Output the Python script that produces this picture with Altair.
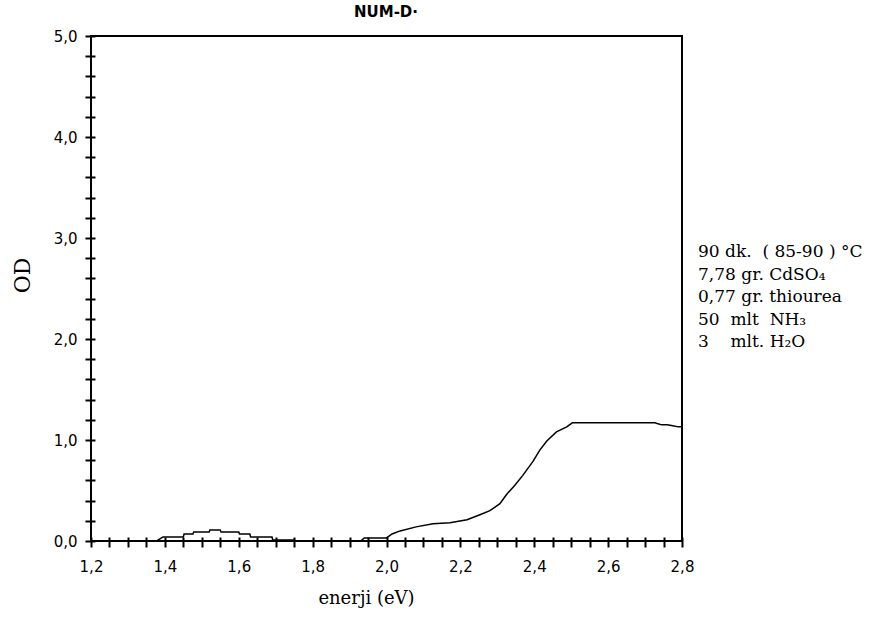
import altair as alt
import pandas as pd

# Absorbance spectrum (optical density vs photon energy)
energy = [1.37, 1.378, 1.395, 1.45, 1.452, 1.476, 1.478, 1.52, 1.522, 1.55, 1.552,
          1.60, 1.602, 1.63, 1.632, 1.69, 1.692, 1.75, 1.755, 1.93, 1.94, 2.00,
          2.015, 2.037, 2.08, 2.126, 2.172, 2.218, 2.253, 2.28, 2.307, 2.325,
          2.347, 2.369, 2.397, 2.415, 2.434, 2.46, 2.488, 2.503, 2.60, 2.727,
          2.735, 2.745, 2.76, 2.775, 2.79, 2.80]
od = [0.0, 0.0, 0.04, 0.04, 0.07, 0.07, 0.09, 0.09, 0.11, 0.11, 0.09,
      0.09, 0.07, 0.07, 0.04, 0.04, 0.01, 0.01, 0.0, 0.0, 0.03, 0.03,
      0.07, 0.10, 0.14, 0.17, 0.18, 0.21, 0.26, 0.30, 0.37, 0.46,
      0.55, 0.65, 0.79, 0.90, 0.99, 1.08, 1.13, 1.17, 1.17, 1.17,
      1.16, 1.15, 1.15, 1.14, 1.13, 1.13]

x_ticks = [round(1.2 + 0.05 * i, 2) for i in range(33)]
y_ticks = [round(0.2 * i, 1) for i in range(26)]

chart_title = "NUM-D·"
NB = "\u00a0"
note_lines = [
    f"90 dk.{NB}{NB}({NB}85-90{NB}){NB}°C",
    "7,78 gr. CdSO₄",
    "0,77 gr. thiourea",
    f"50{NB}{NB}mlt{NB}{NB}NH₃",
    f"3{NB}{NB}{NB}{NB}mlt. H₂O",
]

df = pd.DataFrame({"energy": energy, "od": od})

x_label = ("abs(datum.value*5 - round(datum.value*5)) < 0.001 ? "
           "replace(format(datum.value, '.1f'), '.', ',') : ''")
y_label = ("abs(datum.value - round(datum.value)) < 0.001 ? "
           "replace(format(datum.value, '.1f'), '.', ',') : ''")

common_axis = dict(
    domain=False, grid=False, offset=-4,
    tickSize=10, tickWidth=2, tickColor="black",
    labelFont="DejaVu Sans", labelFontSize=15, labelColor="black",
    labelOverlap=False, labelFlush=False,
    titleColor="black", titleFontWeight="normal", titleFont="DejaVu Serif",
    titleAlign="center", titleBaseline="middle",
)

curve = alt.Chart(df).mark_line(color="black", strokeWidth=1.5).encode(
    x=alt.X("energy:Q",
            scale=alt.Scale(domain=[1.2, 2.8], nice=False, zero=False),
            axis=alt.Axis(values=x_ticks, labelExpr=x_label, labelPadding=12,
                          title="enerji (eV)", titleFontSize=18,
                          titleX=275, titleY=61, **common_axis)),
    y=alt.Y("od:Q",
            scale=alt.Scale(domain=[0, 5], nice=False),
            axis=alt.Axis(values=y_ticks, labelExpr=y_label, labelPadding=8,
                          title="OD", titleFontSize=22, titleAngle=-90,
                          titleX=-73, titleY=239, **common_axis)),
)

single = pd.DataFrame({"k": [0]})

notes = alt.Chart(single).mark_text(
    align="left", baseline="alphabetic", font="DejaVu Serif",
    fontSize=17, lineHeight=22.5, color="black",
).encode(x=alt.value(607), y=alt.value(221), text=alt.value(note_lines))

heading = alt.Chart(single).mark_text(
    align="center", baseline="middle", font="DejaVu Sans",
    fontSize=15, fontWeight="bold", color="black",
).encode(x=alt.value(295), y=alt.value(-24), text=alt.value(chart_title))

chart = alt.layer(curve, notes, heading).properties(
    width=591, height=505,
    autosize=alt.AutoSizeParams(type="none"),
    padding={"left": 91, "top": 36, "right": 214, "bottom": 78},
).configure_view(stroke="black", strokeWidth=2)

chart.save("out.html", embed_options={"renderer": "svg", "actions": False})
